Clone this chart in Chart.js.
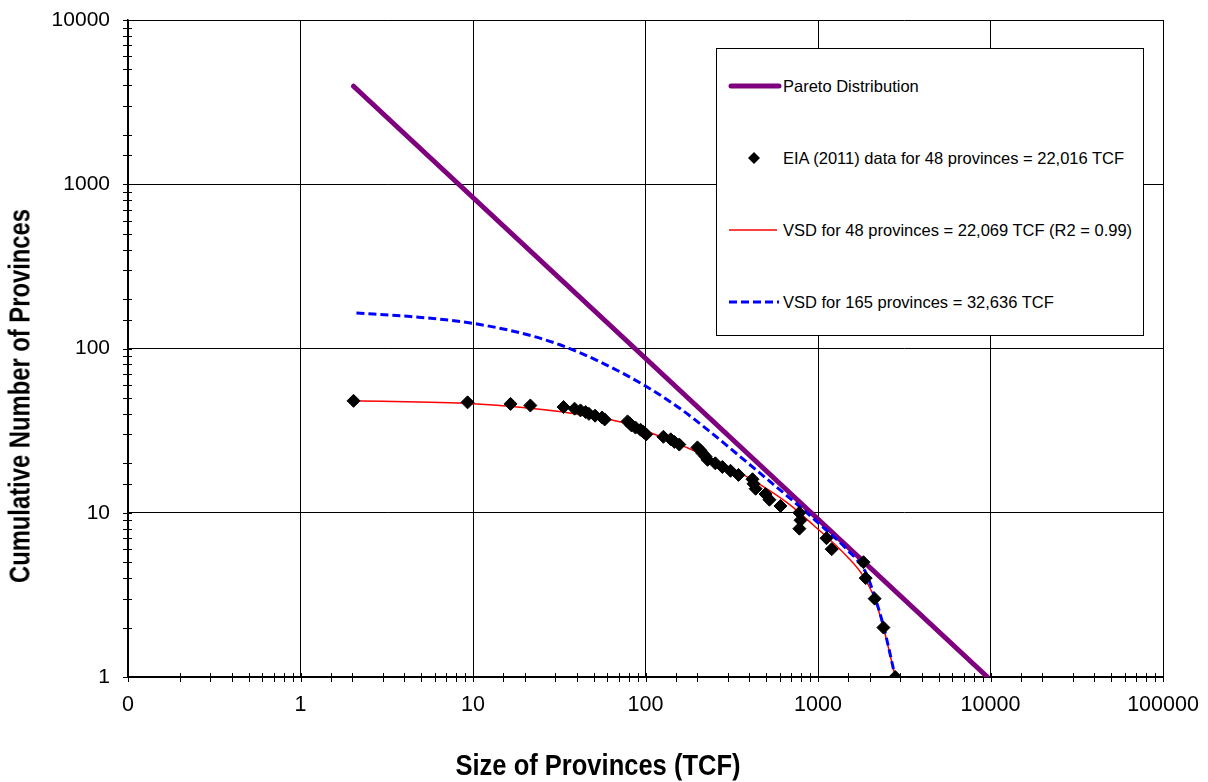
<!DOCTYPE html>
<html>
<head>
<meta charset="utf-8">
<script src="https://cdn.jsdelivr.net/npm/chart.js@4.4.0/dist/chart.umd.min.js"></script>
<style>
html,body{margin:0;padding:0;background:#fff;}
#wrap{position:relative;width:1208px;height:782px;overflow:hidden;font-family:"Liberation Sans",Arial,sans-serif;background:#fff;}
#c{position:absolute;left:0;top:0;}
.atitle{position:absolute;white-space:nowrap;font-family:"Liberation Sans",Arial,sans-serif;font-weight:bold;font-size:29px;color:#000;line-height:1;}
#ytitle{left:20px;top:396px;transform:translate(-50%,-50%) rotate(-90deg) scaleX(0.82);}
#xtitle{left:598px;top:765px;transform:translate(-50%,-50%) scaleX(0.88);}
#legend{position:absolute;left:716px;top:48px;width:428px;height:288px;border:1.5px solid #000;background:#fff;box-sizing:border-box;}
.item{position:absolute;left:0;height:20px;width:420px;}
.item svg{position:absolute;left:10px;top:0;}
.item span{position:absolute;left:66px;top:50%;transform:translateY(-50%);font-size:16.5px;white-space:nowrap;color:#000;}
</style>
</head>
<body>
<div id="wrap">
<canvas id="c" width="1208" height="782"></canvas>
<div class="atitle" id="ytitle">Cumulative Number of Provinces</div>
<div class="atitle" id="xtitle">Size of Provinces (TCF)</div>
<div id="legend">
  <div class="item" style="top:27px"><svg width="56" height="20"><line x1="4" y1="10" x2="52" y2="10" stroke="#7F007F" stroke-width="5" stroke-linecap="round"/></svg><span>Pareto Distribution</span></div>
  <div class="item" style="top:99px"><svg width="56" height="20"><polygon points="27,4 33,10 27,16 21,10" fill="#000"/></svg><span>EIA (2011) data for 48 provinces = 22,016 TCF</span></div>
  <div class="item" style="top:171px"><svg width="56" height="20"><line x1="2" y1="10" x2="50" y2="10" stroke="#FF0000" stroke-width="1.5"/></svg><span>VSD for 48 provinces = 22,069 TCF (R2 = 0.99)</span></div>
  <div class="item" style="top:243px"><svg width="56" height="20"><line x1="2" y1="10" x2="52" y2="10" stroke="#0000FF" stroke-width="3" stroke-dasharray="8,4"/></svg><span>VSD for 165 provinces = 32,636 TCF</span></div>
</div>
</div>
<script>
// ---- data ----
const eiaSize = [2.03, 9.3, 16.5, 21.5, 33.5, 38.8, 42, 45, 47, 51, 56, 58,
  78.7, 81, 83, 87.5, 93.6, 97.4, 101, 127, 140, 147, 157, 200, 208, 214, 223, 229,
  254, 279, 311, 346, 417, 423, 435, 496, 523, 606, 780, 792, 780, 1120, 1200,
  1835, 1890, 2130, 2395, 2805];
const eiaCount = [48, 47, 46, 45, 44, 43, 42, 41, 40, 39, 38, 37,
  36, 35, 34, 33, 32, 31, 30, 29, 28, 27, 26, 25, 24, 23, 22, 21,
  20, 19, 18, 17, 16, 15, 14, 13, 12, 11, 10, 9, 8, 7, 6,
  5, 4, 3, 2, 1];

const paretoSize = [2.03, 9600];
const paretoCount = [3950, 1];

const vsd48Size  = [2.05, 10, 33.5, 72, 100, 171, 217, 390, 665, 942, 1483, 1811, 2130, 2395, 2805];
const vsd48Count = [48, 46.1, 41, 35.7, 31.6, 25.1, 22.5, 16.5, 11.5, 8.4, 5.38, 4.18, 3.0, 2.0, 1];

const vsd165Size  = [2.11, 4.34, 9.67, 18.9, 32.2, 54.8, 100, 160, 238, 355, 530, 792, 1034, 1483, 1884, 2130, 2395, 2805];
const vsd165Count = [164.5, 156.6, 143, 124.3, 105, 82.7, 59.1, 42.8, 31.0, 21.9, 15.4, 10.8, 8.42, 5.93, 4.36, 3.1, 2.05, 1];

const xTickValues = [0.1, 1, 10, 100, 1000, 10000, 100000];
const xTickLabels = ['0', '1', '10', '100', '1000', '10000', '100000'];
const yTickValues = [1, 10, 100, 1000, 10000];
const yTickLabels = ['1', '10', '100', '1000', '10000'];

// ---- helpers ----
const pts = (xs, ys) => xs.map((v, i) => ({x: v, y: ys[i]}));
function decadeIndex(vals, v) {
  for (let i = 0; i < vals.length; i++) {
    if (Math.abs(Math.log10(v) - Math.log10(vals[i])) < 1e-6) return i;
  }
  return -1;
}

const tickMarks = {
  id: 'tickMarks',
  beforeDatasetsDraw(chart) {
    const {ctx, scales: {x, y}} = chart;
    ctx.save();
    ctx.strokeStyle = '#000';
    ctx.lineWidth = 1;
    ctx.beginPath();
    x.ticks.forEach(t => {
      const px = Math.round(x.getPixelForValue(t.value)) + 0.5;
      ctx.moveTo(px, x.top - 4);
      ctx.lineTo(px, x.top + 5);
    });
    y.ticks.forEach(t => {
      const py = Math.round(y.getPixelForValue(t.value)) + 0.5;
      ctx.moveTo(y.right - 5, py);
      ctx.lineTo(y.right + 4, py);
    });
    ctx.stroke();
    ctx.restore();
  }
};

const gridColor = (vals) => (c) => (c.tick && decadeIndex(vals, c.tick.value) >= 0) ? '#000' : 'rgba(0,0,0,0)';

new Chart(document.getElementById('c'), {
  type: 'scatter',
  data: {
    datasets: [
      {
        label: 'EIA (2011) data for 48 provinces = 22,016 TCF',
        data: pts(eiaSize, eiaCount),
        pointStyle: 'rectRot',
        pointRadius: 6.5,
        pointBackgroundColor: '#000',
        pointBorderColor: '#000',
        pointBorderWidth: 1,
        showLine: false,
        order: 1
      },
      {
        label: 'VSD for 165 provinces = 32,636 TCF',
        data: pts(vsd165Size, vsd165Count),
        showLine: true,
        borderColor: '#0000FF',
        borderWidth: 3,
        borderDash: [8, 4],
        pointRadius: 0,
        cubicInterpolationMode: 'monotone',
        order: 2
      },
      {
        label: 'VSD for 48 provinces = 22,069 TCF (R2 = 0.99)',
        data: pts(vsd48Size, vsd48Count),
        showLine: true,
        borderColor: '#FF0000',
        borderWidth: 1.5,
        pointRadius: 0,
        cubicInterpolationMode: 'monotone',
        order: 3
      },
      {
        label: 'Pareto Distribution',
        data: pts(paretoSize, paretoCount),
        showLine: true,
        borderColor: '#7F007F',
        borderWidth: 5,
        borderCapStyle: 'round',
        pointRadius: 0,
        order: 4
      }
    ]
  },
  options: {
    responsive: false,
    devicePixelRatio: 1,
    animation: false,
    events: [],
    layout: {padding: {top: 20, right: 45, left: 0, bottom: 0}},
    plugins: {legend: {display: false}, tooltip: {enabled: false}},
    scales: {
      x: {
        type: 'logarithmic',
        min: 0.1, max: 100000,
        afterFit: s => { s.height = 105; s.paddingLeft = 0; s.paddingRight = 0; },
        border: {color: '#000', width: 1.5},
        grid: {color: gridColor(xTickValues), lineWidth: 1, drawTicks: false},
        ticks: {
          autoSkip: false, maxRotation: 0, padding: 15,
          color: '#000',
          font: {family: '"Liberation Sans", Arial, sans-serif', size: 21.5},
          callback: (v) => { const i = decadeIndex(xTickValues, v); return i >= 0 ? xTickLabels[i] : ''; }
        }
      },
      y: {
        type: 'logarithmic',
        min: 1, max: 10000,
        afterFit: s => { s.width = 128; s.paddingTop = 0; s.paddingBottom = 0; },
        border: {color: '#000', width: 1.5},
        grid: {color: gridColor(yTickValues), lineWidth: 1, drawTicks: false},
        ticks: {
          autoSkip: false, padding: 18,
          color: '#000',
          font: {family: '"Liberation Sans", Arial, sans-serif', size: 21},
          callback: (v) => { const i = decadeIndex(yTickValues, v); return i >= 0 ? yTickLabels[i] : ''; }
        }
      }
    }
  },
  plugins: [tickMarks]
});
</script>
</body>
</html>
